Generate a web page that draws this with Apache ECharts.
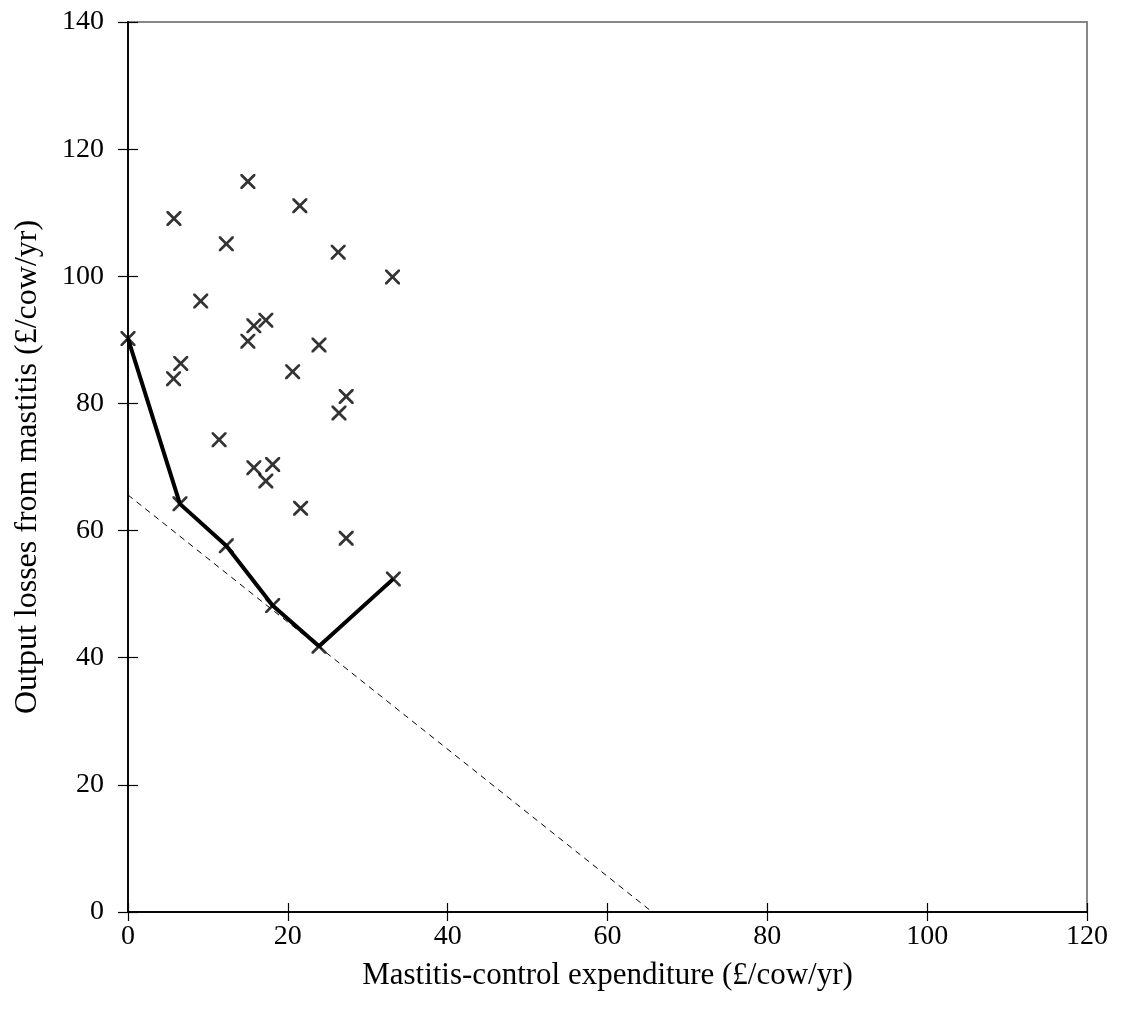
<!DOCTYPE html>
<html>
<head>
<meta charset="utf-8">
<script src="https://cdn.jsdelivr.net/npm/echarts@6/dist/echarts.min.js"></script>
<style>html,body{margin:0;padding:0;background:#fff;}#c{width:1121px;height:1030px;}</style>
</head>
<body>
<div id="c"></div>
<script>
// Herd observations: [expenditure, output losses]
const herdX = [0, 5.75, 15.0, 21.5, 12.3, 26.3, 33.1, 9.1, 15.75, 17.25, 15.0, 23.9, 6.6, 5.7, 20.6, 27.3, 26.4, 11.4, 15.75, 18.1, 17.25, 6.5, 21.6, 12.3, 27.3, 18.1, 23.9, 33.2];
const herdY = [90.2, 109.1, 114.9, 111.1, 105.1, 103.8, 99.9, 96.1, 92.2, 93.1, 89.8, 89.2, 86.3, 83.9, 85.0, 81.1, 78.5, 74.3, 69.9, 70.4, 67.8, 64.2, 63.5, 57.6, 58.8, 48.2, 41.8, 52.4];
// Efficient frontier
const frontierX = [0, 6.5, 12.3, 18.1, 23.9, 33.2];
const frontierY = [90.2, 64.2, 57.6, 48.2, 41.8, 52.4];
// Iso-cost line (total cost = 65.6)
const isoX = [0, 65.6];
const isoY = [65.6, 0];
const xTicks = [0, 20, 40, 60, 80, 100, 120];
const yTicks = [0, 20, 40, 60, 80, 100, 120, 140];

const zip = (a, b) => a.map((v, i) => [v, b[i]]);
const crossPath = 'path://M0,0 L2.6,0 L10,7.4 L17.4,0 L20,0 L20,2.6 L12.6,10 L20,17.4 L20,20 L17.4,20 L10,12.6 L2.6,20 L0,20 L0,17.4 L7.4,10 L0,2.6 Z';
const font = '"Liberation Serif", "Times New Roman", serif';

const baseX = {
  type: 'value', min: xTicks[0], max: xTicks[xTicks.length - 1], interval: 20,
  splitLine: {show: false},
  axisLine: {show: true, lineStyle: {color: '#000', width: 1.5}}
};
const baseY = {
  type: 'value', min: yTicks[0], max: yTicks[yTicks.length - 1], interval: 20,
  splitLine: {show: false},
  axisLine: {show: true, lineStyle: {color: '#000', width: 1.5}}
};

const chart = echarts.init(document.getElementById('c'), null, {renderer: 'canvas'});
chart.setOption({
  animation: false,
  backgroundColor: '#fff',
  grid: {left: 128, right: 34, top: 22, bottom: 118, show: true, borderColor: '#888', borderWidth: 2, backgroundColor: 'transparent'},
  xAxis: [
    Object.assign({}, baseX, {
      name: 'Mastitis-control expenditure (£/cow/yr)', nameLocation: 'middle', nameGap: 48,
      nameTextStyle: {fontFamily: font, fontSize: 31, color: '#000'},
      axisTick: {show: true, inside: false, length: 9, lineStyle: {color: '#000', width: 1.2}},
      axisLabel: {fontFamily: font, fontSize: 28, color: '#000', margin: 11}
    }),
    Object.assign({}, baseX, {
      position: 'bottom',
      axisTick: {show: true, inside: true, length: 9, lineStyle: {color: '#000', width: 1.2}},
      axisLabel: {show: false}
    })
  ],
  yAxis: [
    Object.assign({}, baseY, {
      name: 'Output losses from mastitis (£/cow/yr)', nameLocation: 'middle', nameGap: 84,
      nameTextStyle: {fontFamily: font, fontSize: 32, color: '#000'},
      axisTick: {show: true, inside: false, length: 10, lineStyle: {color: '#000', width: 1.2}},
      axisLabel: {fontFamily: font, fontSize: 28, color: '#000', margin: 24}
    }),
    Object.assign({}, baseY, {
      position: 'left',
      axisTick: {show: true, inside: true, length: 10, lineStyle: {color: '#000', width: 1.2}},
      axisLabel: {show: false}
    })
  ],
  series: [
    {
      type: 'line', data: zip(isoX, isoY), symbol: 'none', silent: true,
      lineStyle: {color: '#000', width: 1, type: [6, 5]}, z: 1
    },
    {
      type: 'line', data: zip(frontierX, frontierY), symbol: 'none', silent: true,
      lineStyle: {color: '#000', width: 4}, z: 2
    },
    {
      type: 'scatter', data: zip(herdX, herdY), symbol: crossPath, symbolSize: 15,
      itemStyle: {color: '#000'}, z: 3
    }
  ]
});
</script>
</body>
</html>
